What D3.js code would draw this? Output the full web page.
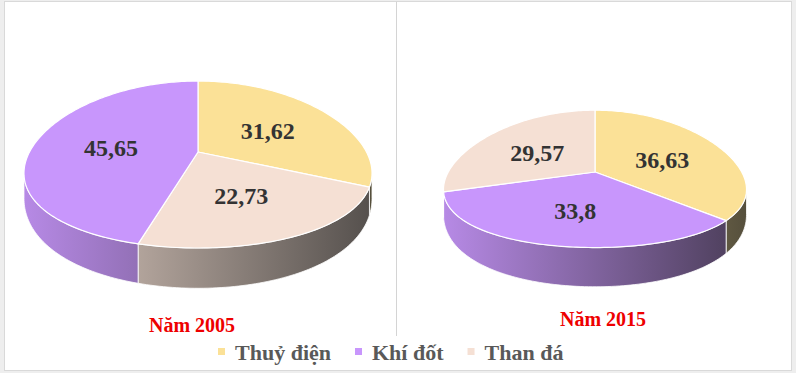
<!DOCTYPE html>
<html>
<head>
<meta charset="utf-8">
<script src="https://cdn.jsdelivr.net/npm/d3@7"></script>
<style>
  html, body { margin: 0; padding: 0; background: #eeeeee; }
  svg { display: block; }
</style>
</head>
<body>
<div id="chart"></div>
<script>
// ------------------------------------------------------------
// Data
// ------------------------------------------------------------
const categories = ["Thuỷ điện", "Khí đốt", "Than đá"];
const years = ["Năm 2005", "Năm 2015"];
const values2005 = [31.62, 45.65, 22.73];
const values2015 = [36.63, 33.8, 29.57];
// clockwise drawing order from 12 o'clock (index into categories)
const order2005 = [0, 2, 1];
const order2015 = [0, 1, 2];
const colors = ["#fbe197", "#c896fc", "#f5e0d4"];

const W = 796, H = 373;

const locale = d3.formatLocale({ decimal: ",", thousands: ".", grouping: [3], currency: ["", ""] });
const fmt = locale.format("~g");

const svg = d3.select("#chart")
    .append("svg")
    .attr("width", W)
    .attr("height", H);

const defs = svg.append("defs");

// panel background + frame
svg.append("rect")
    .attr("x", 4.5).attr("y", 1.5)
    .attr("width", 787).attr("height", 369)
    .attr("fill", "#ffffff")
    .attr("stroke", "#d9d9d9");

svg.append("line")
    .attr("x1", 396.5).attr("x2", 396.5)
    .attr("y1", 1.5).attr("y2", 336)
    .attr("stroke", "#d4d4d4");

// ------------------------------------------------------------
// 3D pie
// ------------------------------------------------------------
function pie3d(opt) {
    const data = opt.order.map(i => ({ name: categories[i], value: opt.values[i], color: colors[i] }));
    const arcs = d3.pie().sort(null).value(d => d.value).startAngle(0).endAngle(2 * Math.PI)(data);

    // projection of a disk point (angle, radius) onto the screen
    function proj(a, r, bottom) {
        const u = r * Math.sin(a), v = -r * Math.cos(a);
        const x = opt.cx + opt.R * u / (1 - opt.kx * v);
        const y = bottom
            ? opt.cy + opt.D + opt.Ryb * v / (1 - opt.ky * v)
            : opt.cy + opt.Ry * v / (1 - opt.ky * v);
        return [x, y];
    }

    function rim(a0, a1, bottom) {
        const n = Math.max(2, Math.ceil((a1 - a0) / 0.02));
        return d3.range(n + 1).map(i => proj(a0 + (a1 - a0) * i / n, 1, bottom));
    }

    const line = d3.line();
    const g = svg.append("g");

    // side gradients
    const xs = d3.scaleLinear().domain([0, 1]).range([opt.cx - opt.R * 1.04, opt.cx + opt.R * 1.04]);
    data.forEach((d, i) => {
        const grad = defs.append("linearGradient")
            .attr("id", opt.id + "-g" + i)
            .attr("gradientUnits", "userSpaceOnUse")
            .attr("x1", xs(0)).attr("x2", xs(1))
            .attr("y1", 0).attr("y2", 0);
        [0, 0.5, 1].forEach(t => {
            grad.append("stop")
                .attr("offset", t)
                .attr("stop-color", d3.interpolateRgb(d.color, "#1e1e1e")(0.1 + 0.65 * t));
        });
    });

    // visible part of the outer wall
    const vis0 = Math.acos(-opt.kx), vis1 = 2 * Math.PI - vis0;

    arcs.forEach((s, i) => {
        const a0 = Math.max(s.startAngle, vis0), a1 = Math.min(s.endAngle, vis1);
        if (a1 <= a0) return;
        const pts = rim(a0, a1, false).concat(rim(a0, a1, true).reverse());
        g.append("path")
            .attr("d", line(pts) + "Z")
            .attr("fill", `url(#${opt.id}-g${i})`)
            .attr("stroke", "#ffffff")
            .attr("stroke-width", 0.8);
    });

    // top faces
    arcs.forEach(s => {
        const pts = [proj(0, 0, false)].concat(rim(s.startAngle, s.endAngle, false));
        g.append("path")
            .attr("d", line(pts) + "Z")
            .attr("fill", s.data.color)
            .attr("stroke", "#ffffff")
            .attr("stroke-width", 1.2)
            .attr("stroke-linejoin", "round");
    });

    // value labels
    arcs.forEach(s => {
        const p = proj((s.startAngle + s.endAngle) / 2, 0.53, false);
        g.append("text")
            .attr("x", p[0])
            .attr("y", p[1] + 2)
            .attr("text-anchor", "middle")
            .attr("dominant-baseline", "central")
            .attr("font-family", "'Liberation Serif', 'Times New Roman', serif")
            .attr("font-weight", "bold")
            .attr("font-size", "24px")
            .attr("fill", "#333333")
            .text(fmt(s.data.value));
    });

    // year title
    svg.append("text")
        .attr("x", opt.tx)
        .attr("y", opt.ty)
        .attr("text-anchor", "middle")
        .attr("dominant-baseline", "central")
        .attr("font-family", "'Liberation Serif', 'Times New Roman', serif")
        .attr("font-weight", "bold")
        .attr("font-size", "20px")
        .attr("fill", "#ee0000")
        .text(opt.title);
}

pie3d({
    id: "p2005", values: values2005, order: order2005, title: years[0],
    cx: 198, cy: 152, R: 168.5, Ry: 81.6, Ryb: 98, D: 21, kx: 0.25, ky: 0.15,
    tx: 192, ty: 325
});

pie3d({
    id: "p2015", values: values2015, order: order2015, title: years[1],
    cx: 595, cy: 172, R: 146.7, Ry: 68, Ryb: 84.4, D: 21, kx: 0.25, ky: 0.10,
    tx: 603, ty: 319
});

// ------------------------------------------------------------
// Legend
// ------------------------------------------------------------
const legend = svg.append("g").attr("transform", "translate(218,352)");
let lx = 0;
categories.forEach((c, i) => {
    legend.append("rect")
        .attr("x", lx).attr("y", -4)
        .attr("width", 7).attr("height", 7)
        .attr("fill", colors[i]);
    const t = legend.append("text")
        .attr("x", lx + 17)
        .attr("y", 0)
        .attr("dominant-baseline", "central")
        .attr("font-family", "'Liberation Serif', 'Times New Roman', serif")
        .attr("font-weight", "bold")
        .attr("font-size", "22px")
        .attr("fill", "#595959")
        .text(c);
    lx += 17 + t.node().getComputedTextLength() + 24;
});
</script>
</body>
</html>
